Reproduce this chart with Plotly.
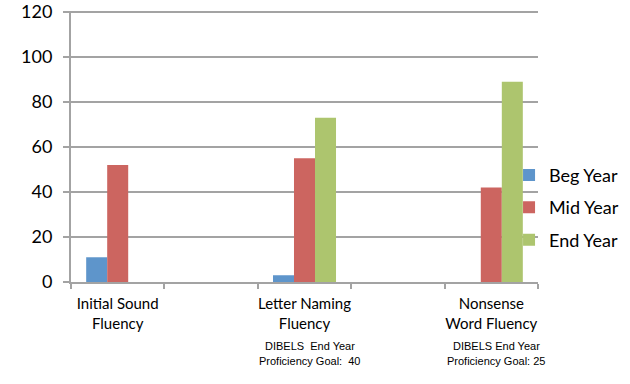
import plotly.graph_objects as go

categories = ["Initial Sound<br>Fluency", " ", "Letter Naming<br>Fluency", "  ", "Nonsense<br>Word Fluency"]
bar_categories = ["Initial Sound<br>Fluency", "Letter Naming<br>Fluency", "Nonsense<br>Word Fluency"]
beg_year = [11, 3, None]
mid_year = [52, 55, 42]
end_year = [None, 73, 89]
series_names = ["Beg Year", "Mid Year", "End Year"]
series_colors = ["#5E95CB", "#CC6560", "#ADC56E"]
goal_notes = [
    ("Letter Naming<br>Fluency", ["DIBELS\u00a0 End Year", "Proficiency Goal:\u00a0 40"]),
    ("Nonsense<br>Word Fluency", ["DIBELS End Year", "Proficiency Goal: 25"]),
]

W, H = 630, 384
ml, mt = 71, 11
pw, ph = 467, 271
mr = W - ml - pw
mb = H - mt - ph

fig = go.Figure()
for name, vals, col in zip(series_names, [beg_year, mid_year, end_year], series_colors):
    fig.add_trace(go.Bar(x=bar_categories, y=vals, name=name, marker_color=col,
                         marker_line_width=0, legendgroup=name))

annotations = []
line_y = [346, 361]
for cat, lines in goal_notes:
    for ln, yy in zip(lines, line_y):
        annotations.append(dict(
            x=cat, xref="x", xshift=5, y=-(yy - (H - mb)) / ph, yref="paper",
            text=ln, showarrow=False, xanchor="center", yanchor="middle",
            font=dict(family="Liberation Sans, Arial", size=11, color="#000000")))

grid = "#A3A3A3"
fig.update_layout(
    width=W, height=H,
    margin=dict(l=ml, r=mr, t=mt, b=mb, autoexpand=False),
    paper_bgcolor="white", plot_bgcolor="white",
    barmode="group", bargap=0.325, bargroupgap=0,
    font=dict(family="Lato", color="#000000"),
    legend=dict(x=0.938, xanchor="left", y=0.274, yanchor="middle",
                font=dict(family="Lato", size=18, color="#000000"),
                traceorder="grouped", tracegroupgap=6, bgcolor="rgba(0,0,0,0)"),
    xaxis=dict(type="category", categoryorder="array", categoryarray=categories,
               range=[-0.5, 4.5], tickson="boundaries", ticks="outside", ticklen=5,
               tickwidth=2, tickcolor=grid, showline=True, linecolor=grid, linewidth=2,
               showgrid=False, tickangle=0, automargin=False, ticklabelstandoff=7,
               tickfont=dict(family="Lato", size=15, color="#000000")),
    yaxis=dict(range=[0, 120.5], tickvals=[0, 20, 40, 60, 80, 100, 120],
               ticks="outside", ticklen=6, tickwidth=2,
               tickcolor=grid, showline=True, linecolor=grid, linewidth=2,
               showgrid=True, gridcolor=grid, gridwidth=2, zeroline=False,
               automargin=False, ticklabeloverflow="allow",
               tickfont=dict(family="Lato", size=18, color="#000000"),
               ticklabelstandoff=7),
    annotations=annotations,
)

fig.write_html("out.html", config={"displayModeBar": False},
               post_script="document.body.style.margin='0';document.body.style.overflow='hidden';")
